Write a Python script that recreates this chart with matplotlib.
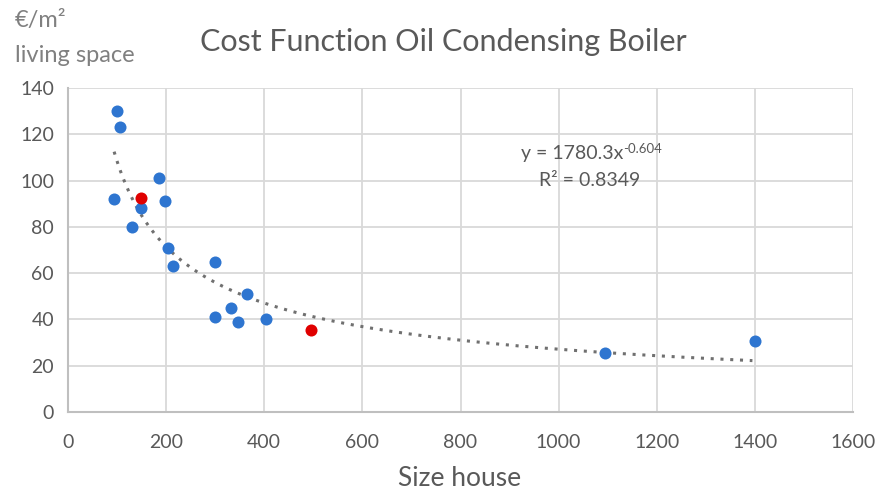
import numpy as np
import matplotlib.pyplot as plt

plt.rcParams["font.family"] = ["Lato", "DejaVu Sans"]

# blue: reference houses, red: highlighted cases
size_blue = [100, 106, 94, 149, 130, 185, 198, 204, 214, 300, 300, 332, 347, 365, 404, 1095, 1400]
cost_blue = [130, 123, 92, 88, 80, 101, 91, 71, 63, 65, 41, 45, 39, 51, 40, 25.5, 30.5]
size_red = [149, 495]
cost_red = [92.5, 35.5]

x_ticks = list(range(0, 1601, 200))
y_ticks = list(range(0, 141, 20))

grey = "#595959"
blue = "#2E75D0"
red = "#E00000"

# power-law trend line (fitted in log space, like the spreadsheet trend line)
x_all = np.array(size_blue + size_red, dtype=float)
y_all = np.array(cost_blue + cost_red, dtype=float)
b, log_a = np.polyfit(np.log(x_all), np.log(y_all), 1)
x_fit = np.linspace(x_all.min(), x_all.max() - 5, 300)
y_fit = np.exp(log_a) * x_fit ** b

fig = plt.figure(figsize=(8.78, 4.93), dpi=100)
ax = fig.add_axes([68 / 878, 1 - 412 / 493, 785 / 878, 324 / 493])

ax.plot(x_fit, y_fit, linestyle=(0, (1, 2.2)), color="#707070", lw=2.2, zorder=2)
ax.scatter(size_blue, cost_blue, s=75, color=blue, zorder=3, linewidths=0)
ax.scatter(size_red, cost_red, s=75, color=red, zorder=4, linewidths=0)

ax.set_xlim(0, 1600)
ax.set_ylim(0, 140)
ax.set_xticks(x_ticks)
ax.set_yticks(y_ticks)
ax.grid(True, color="#D9D9D9", lw=1.3)
ax.set_axisbelow(True)
for s in ["top", "right"]:
    ax.spines[s].set_visible(False)
for s in ["left", "bottom"]:
    ax.spines[s].set_color("#BFBFBF")
    ax.spines[s].set_linewidth(1.5)
ax.tick_params(length=0, labelsize=14, labelcolor=grey)
ax.tick_params(axis="x", pad=16)
ax.tick_params(axis="y", pad=10)

eq = ax.text(521 / 878, 1 - 153 / 493, "y = 1780.3x", ha="left", va="center",
             fontsize=14, color=grey, transform=fig.transFigure)
ax.annotate("-0.604", xy=(1.0, 1.0), xycoords=eq, ha="left", va="top",
            fontsize=9.5, color=grey, xytext=(0, 1), textcoords="offset points")
ax.text(590 / 878, 1 - 180 / 493, "R² = 0.8349", ha="center", va="center",
        fontsize=14, color=grey, transform=fig.transFigure)

fig.text(443 / 878, 1 - 42 / 493, "Cost Function Oil Condensing Boiler", ha="center",
         va="center", fontsize=22, color=grey)
fig.text(15 / 878, 1 - 20 / 493, "€/m²", ha="left", va="center", fontsize=17, color="#808080")
fig.text(15 / 878, 1 - 56 / 493, "living space", ha="left", va="center", fontsize=17, color="#808080")
fig.text(460 / 878, 1 - 478 / 493, "Size house", ha="center", va="center", fontsize=19, color=grey)

fig.savefig("out.png", dpi=100, facecolor="white")
